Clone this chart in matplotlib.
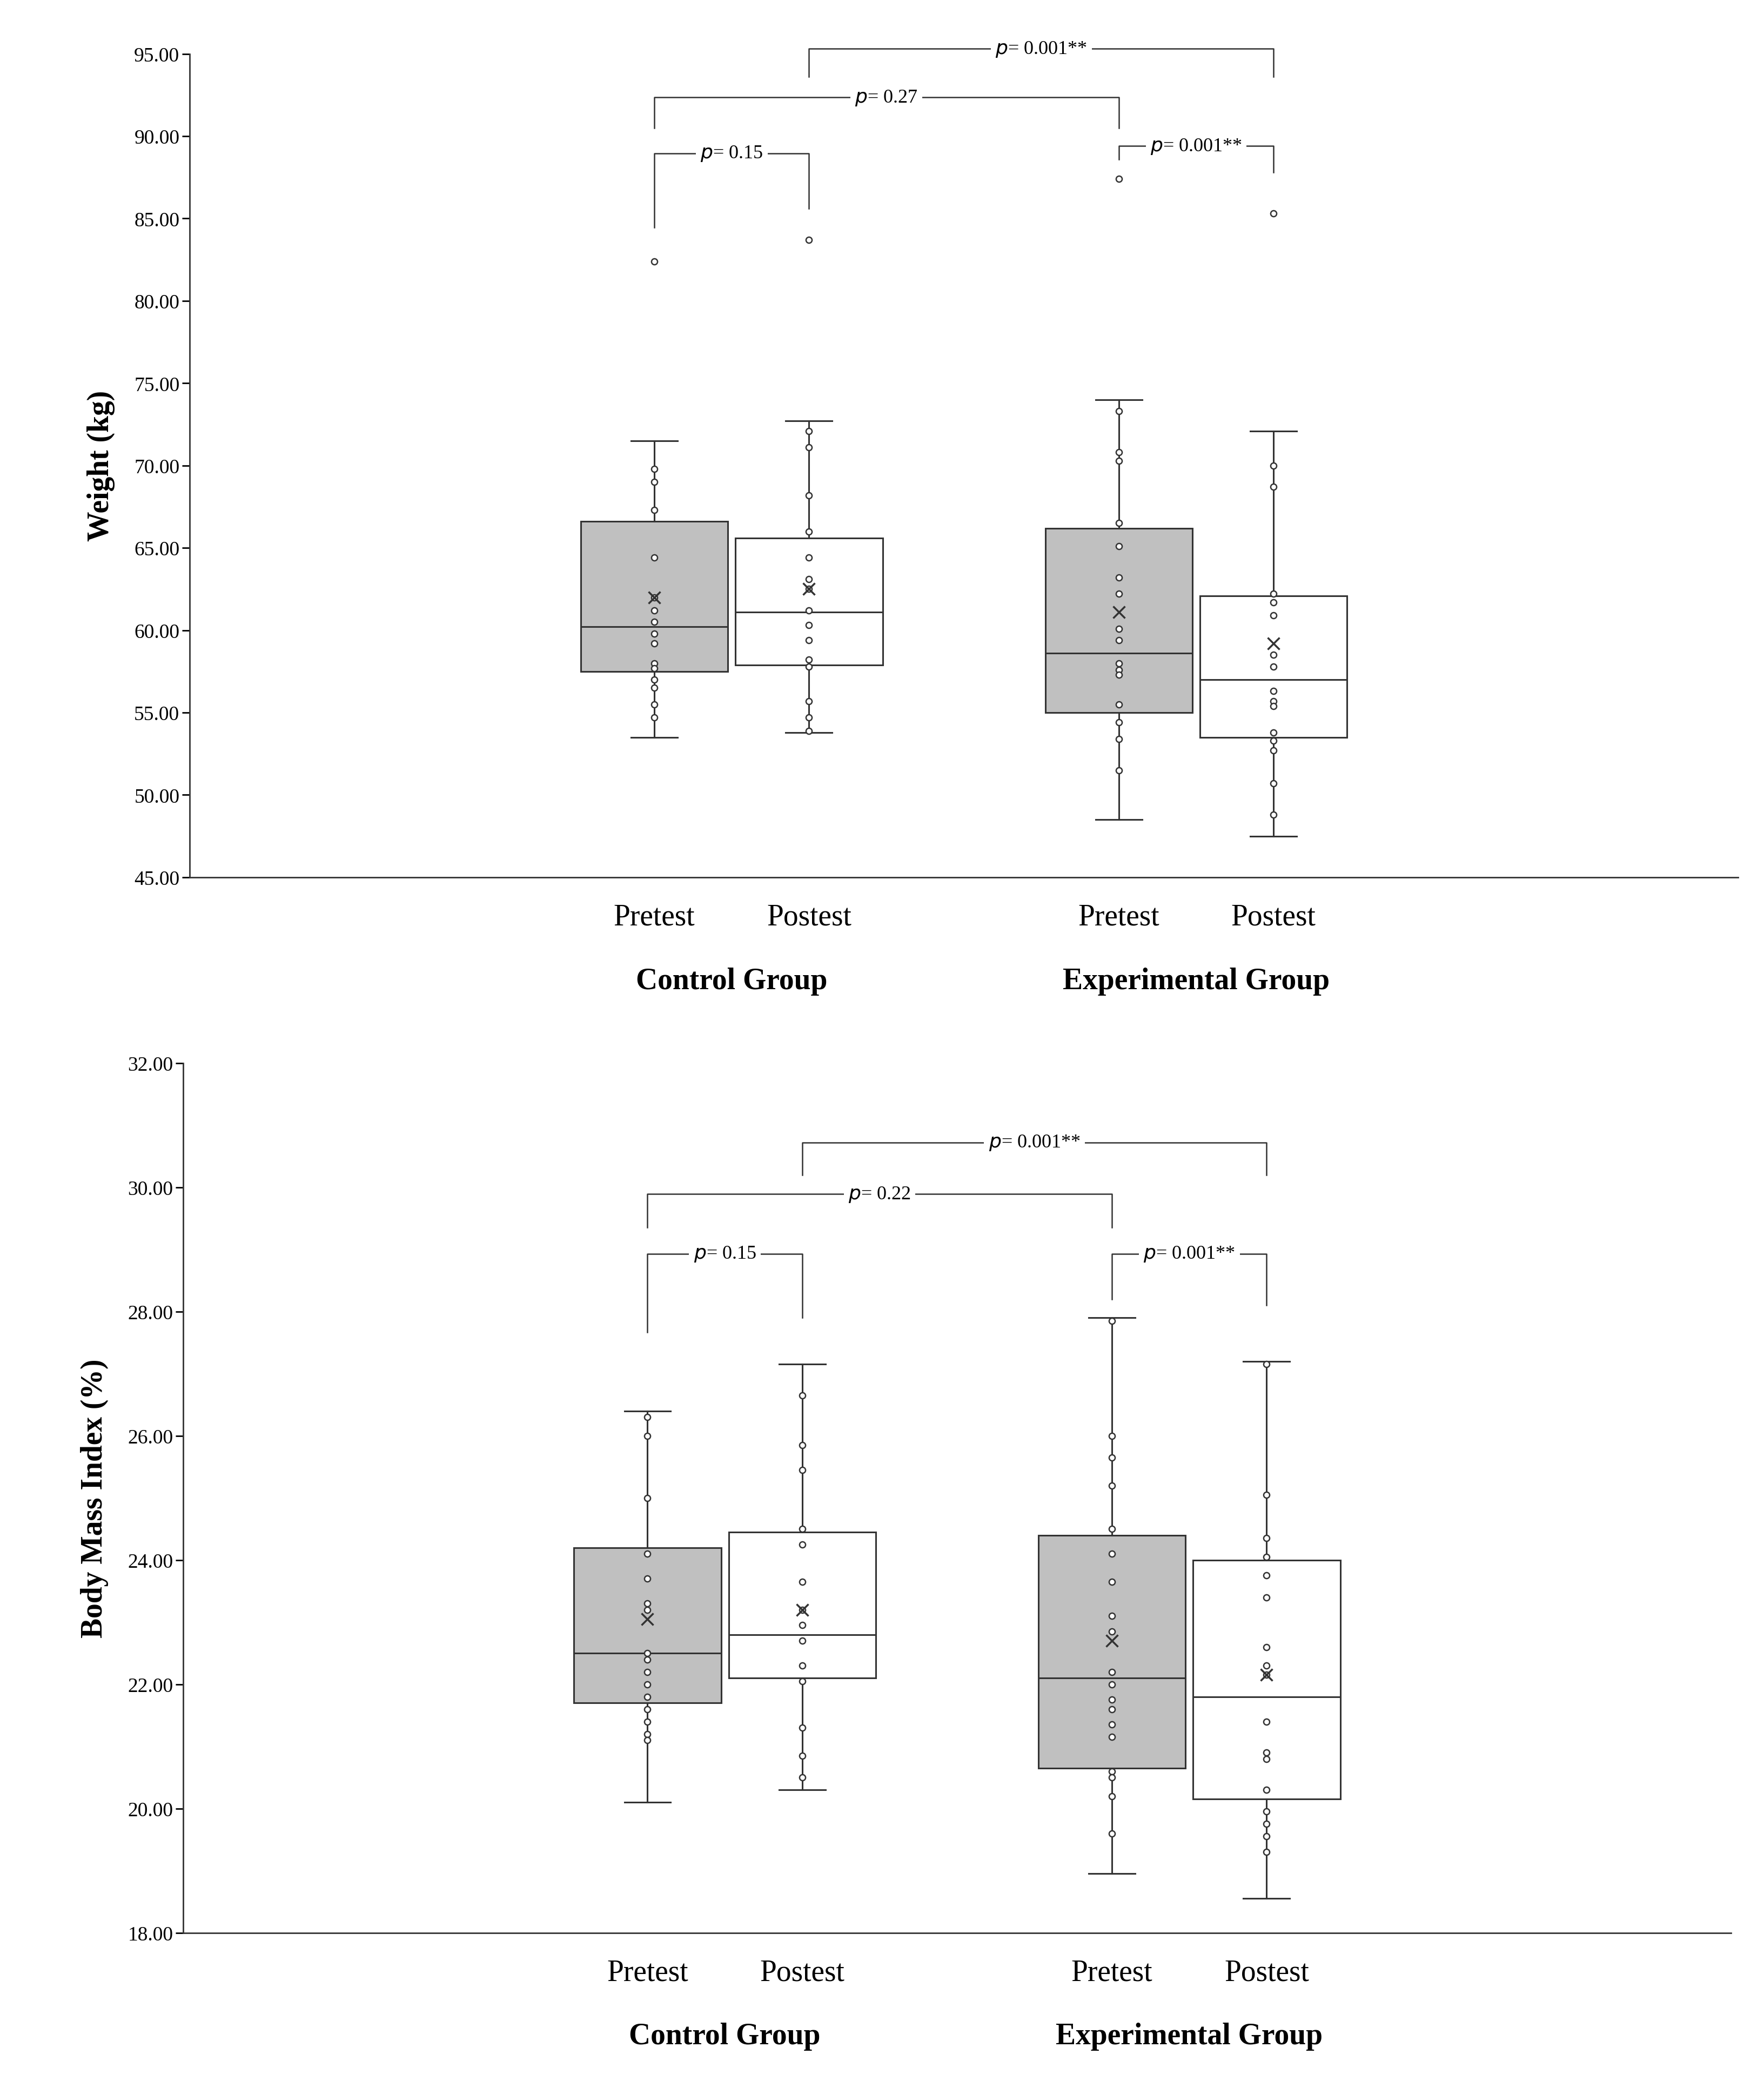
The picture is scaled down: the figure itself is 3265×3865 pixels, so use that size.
import matplotlib
matplotlib.use("Agg")
import matplotlib.pyplot as plt
from matplotlib.transforms import blended_transform_factory

plt.rcParams["font.family"] = "Liberation Serif"

conditions = ["Pretest", "Postest", "Pretest", "Postest"]
groups = ["Control Group", "Experimental Group"]
positions = [3, 4, 6, 7]
face = ["#c0c0c0", "white", "#c0c0c0", "white"]

# Weight (kg)
w_wlo = [53.5, 53.8, 48.5, 47.5]
w_q1 = [57.5, 57.9, 55.0, 53.5]
w_med = [60.2, 61.1, 58.6, 57.0]
w_q3 = [66.6, 65.6, 66.2, 62.1]
w_whi = [71.5, 72.7, 74.0, 72.1]
w_mean = [62.0, 62.5, 61.1, 59.2]
w_out = [[82.4], [83.7], [87.4], [85.3]]
w_pts = [
    [69.8, 69.0, 67.3, 64.4, 62.0, 61.2, 60.5, 59.8, 59.2, 58.0, 57.7, 57.0, 56.5, 55.5, 54.7],
    [72.1, 71.1, 68.2, 66.0, 64.4, 63.1, 62.5, 61.2, 60.3, 59.4, 58.2, 57.8, 55.7, 54.7, 53.9],
    [73.3, 70.8, 70.3, 66.5, 65.1, 63.2, 62.2, 60.1, 59.4, 58.0, 57.6, 57.3, 55.5, 54.4, 53.4, 51.5],
    [70.0, 68.7, 62.2, 61.7, 60.9, 58.5, 57.8, 56.3, 55.7, 55.4, 53.8, 53.3, 52.7, 50.7, 48.8],
]
# brackets: (i, j, y, left leg bottom, right leg bottom, label)
w_brackets = [
    (0, 1, 88.96, 84.45, 85.6, "0.15"),
    (0, 2, 92.35, 90.5, 90.5, "0.27"),
    (1, 3, 95.3, 93.6, 93.6, "0.001**"),
    (2, 3, 89.4, 88.6, 87.8, "0.001**"),
]

# BMI
b_wlo = [20.1, 20.3, 18.95, 18.55]
b_q1 = [21.7, 22.1, 20.65, 20.15]
b_med = [22.5, 22.8, 22.1, 21.8]
b_q3 = [24.2, 24.45, 24.4, 24.0]
b_whi = [26.4, 27.15, 27.9, 27.2]
b_mean = [23.05, 23.2, 22.7, 22.15]
b_out = [[], [], [], []]
b_pts = [
    [26.3, 26.0, 25.0, 24.1, 23.7, 23.3, 23.2, 22.5, 22.4, 22.2, 22.0, 21.8, 21.6, 21.4, 21.2, 21.1],
    [26.65, 25.85, 25.45, 24.5, 24.25, 23.65, 23.2, 22.95, 22.7, 22.3, 22.05, 21.3, 20.85, 20.5],
    [27.85, 26.0, 25.65, 25.2, 24.5, 24.1, 23.65, 23.1, 22.85, 22.2, 22.0, 21.75, 21.6, 21.35, 21.15, 20.6, 20.5, 20.2, 19.6],
    [27.15, 25.05, 24.35, 24.05, 23.75, 23.4, 22.6, 22.3, 22.15, 21.4, 20.9, 20.8, 20.3, 19.95, 19.75, 19.55, 19.3],
]
b_brackets = [
    (0, 1, 28.93, 27.67, 27.9, "0.15"),
    (0, 2, 29.89, 29.35, 29.35, "0.22"),
    (1, 3, 30.72, 30.2, 30.2, "0.001**"),
    (2, 3, 28.93, 28.2, 28.1, "0.001**"),
]

fig = plt.figure(figsize=(32.66, 38.66), dpi=100)
LW = 2.2


def panel(rect, wlo, q1, med, q3, whi, mean, out, pts, brackets, ylim, yticks, ylabel):
    ax = fig.add_axes(rect)
    stats = []
    for i in range(4):
        stats.append(dict(whislo=wlo[i], q1=q1[i], med=med[i], q3=q3[i], whishi=whi[i],
                          mean=mean[i], fliers=out[i]))
    bp = ax.bxp(stats, positions=positions, widths=0.95, patch_artist=True, showfliers=False,
                boxprops=dict(linewidth=LW, edgecolor="#333333"),
                medianprops=dict(color="#333333", linewidth=LW),
                whiskerprops=dict(color="#333333", linewidth=LW),
                capprops=dict(color="#333333", linewidth=LW), capwidths=0.3)
    for p, c in zip(bp["boxes"], face):
        p.set_facecolor(c)
    for i, x in enumerate(positions):
        allp = pts[i] + out[i]
        ax.plot([x] * len(allp), allp, "o", ms=8, mfc="white", mec="#333333", mew=1.8, zorder=4)
        ax.plot([x], [mean[i]], "x", ms=16, color="#333333", mew=2.5, zorder=5)
    for i, j, y, l1, l2, lab in brackets:
        x1, x2 = positions[i], positions[j]
        mid = (x1 + x2) / 2
        ax.plot([x1, x1, x2, x2], [l1, y, y, l2], color="#333333", lw=1.8, clip_on=False)
        ax.text(mid, y, r"$\it{p}$= " + lab, ha="center", va="center", fontsize=26,
                bbox=dict(facecolor="white", edgecolor="none", pad=6), clip_on=False)
    ax.set_xlim(0, 10)
    ax.set_ylim(*ylim)
    ax.set_yticks(yticks)
    ax.set_yticklabels([f"{v:.2f}" for v in yticks], fontsize=27)
    ax.set_xticks([])
    for s in ["top", "right"]:
        ax.spines[s].set_visible(False)
    for s in ["left", "bottom"]:
        ax.spines[s].set_linewidth(2)
        ax.spines[s].set_color("#333333")
    ax.tick_params(axis="y", length=10, width=2, direction="out")
    ax.set_ylabel(ylabel, fontsize=40, fontweight="bold", labelpad=25)
    tr = blended_transform_factory(ax.transData, ax.transAxes)
    for x, c in zip(positions, conditions):
        ax.annotate(c, (x, 0), xycoords=tr, xytext=(0, -53), textcoords="offset points",
                    ha="center", va="center", fontsize=40)
    for k, g in enumerate(groups):
        gx = (positions[2 * k] + positions[2 * k + 1]) / 2
        ax.annotate(g, (gx, 0), xycoords=tr, xytext=(0, -138), textcoords="offset points",
                    ha="center", va="center", fontsize=40, fontweight="bold")
    return ax


panel([0.1075, 0.5797, 0.8775, 0.3943], w_wlo, w_q1, w_med, w_q3, w_whi, w_mean, w_out, w_pts,
      w_brackets, (45, 95), [45 + 5 * k for k in range(11)], "Weight (kg)")
panel([0.1038, 0.0743, 0.8772, 0.4165], b_wlo, b_q1, b_med, b_q3, b_whi, b_mean, b_out, b_pts,
      b_brackets, (18, 32), [18 + 2 * k for k in range(8)], "Body Mass Index (%)")

fig.savefig("out.png", dpi=100, facecolor="white")
